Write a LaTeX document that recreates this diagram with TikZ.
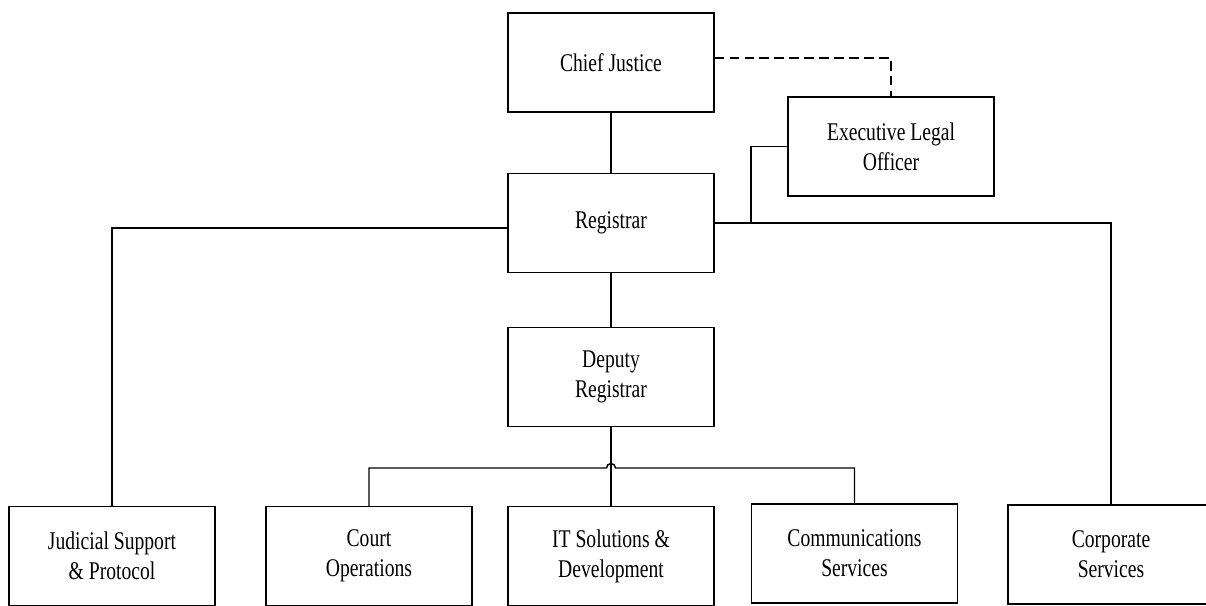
\documentclass[tikz,border=0pt]{standalone}
\usepackage{fontspec}
\setmainfont{Liberation Serif}[FakeStretch=0.77]
\usetikzlibrary{calc}
\tikzset{
  unit/.style={draw, line width=0.8pt, minimum width=4.12cm, minimum height=1.98cm,
    align=center, inner sep=2pt, font=\fontsize{14.5}{17}\selectfont},
  link/.style={line width=0.8pt},
  advise/.style={link, dash pattern=on 5.5pt off 3pt},
}
\begin{document}
\begin{tikzpicture}[x=0.02cm,y=-0.02cm]
  \clip (0,0) rectangle (1206,605);
  % top of the chart
  \node[unit] (cj)  at (611,62.5)  {Chief Justice};
  \node[unit] (elo) at (891,146.5) {Executive Legal\\Officer};
  \node[unit] (reg) at (611,223)   {Registrar};
  \node[unit] (dep) at (611,377)   {Deputy\\Registrar};
  % bottom row
  \node[unit] (jsp)   at (112,556)    {Judicial Support\\\& Protocol};
  \node[unit] (court) at (369,556)    {Court\\Operations};
  \node[unit] (its)   at (611,556)    {IT Solutions \&\\Development};
  \node[unit] (comm)  at (854.5,553.5) {Communications\\Services};
  \node[unit] (corp)  at (1111,554.5) {Corporate\\Services};
  \coordinate (elojoin) at (751,223);
  \coordinate (bus) at (611,468);
  % lines
  \draw[link] (cj) -- (reg);
  \draw[link] (reg) -- (dep);
  \draw[link] (dep) -- (its);
  \draw[advise] ([yshift=0.09cm]cj.east) -| (elo.north);
  \draw[link] (elo.west) -| (elojoin);
  \draw[link] (reg.east) -| (corp.north);
  \draw[link] ([yshift=-0.1cm]reg.west) -| (jsp.north);
  \draw[link] (court.north) -- (court.north |- bus) -- ([xshift=-0.09cm]bus)
    arc (180:0:0.09cm) -- (comm.north |- bus) -- (comm.north);
\end{tikzpicture}
\end{document}
